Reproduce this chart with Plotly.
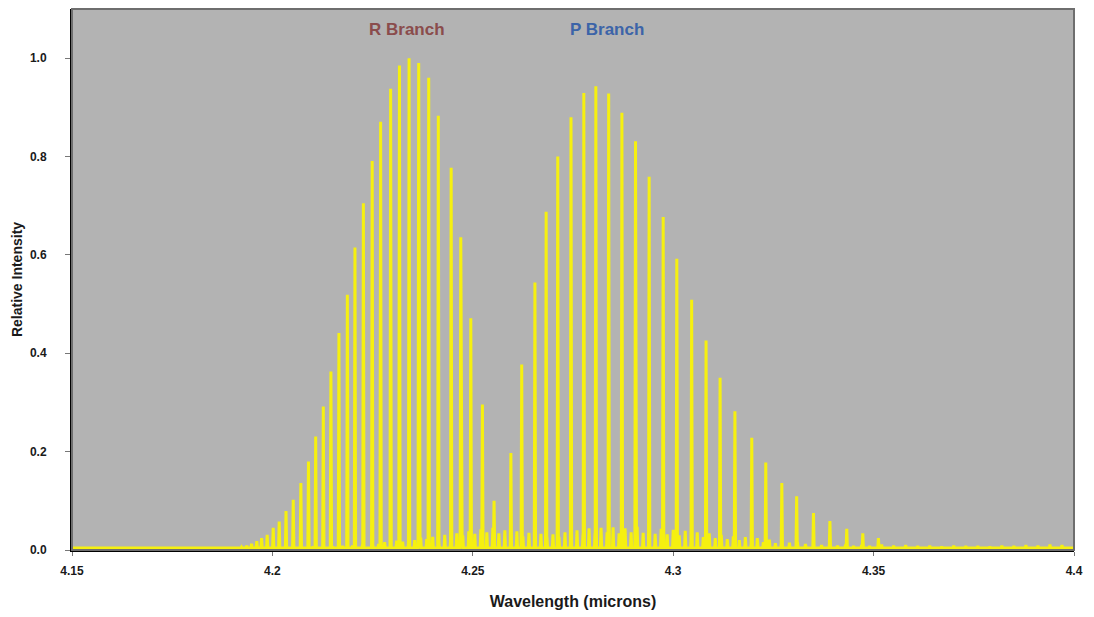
import plotly.graph_objects as go

# ---------------- data ----------------
# strong (fundamental band) rotational lines: wavelength in microns, relative intensity
strong_wl = [4.1898, 4.1911, 4.1923, 4.1936, 4.1948, 4.1961, 4.1973, 4.1987,
             4.2002, 4.2017, 4.2034, 4.2052, 4.2071, 4.2090, 4.2108, 4.2127,
             4.2146, 4.2166, 4.2187, 4.2206, 4.2227, 4.2249, 4.2270, 4.2295,
             4.2317, 4.2341, 4.2365, 4.2390, 4.2414, 4.2446, 4.2470, 4.2495,
             4.2524, 4.2553,
             4.2595, 4.2622, 4.2655, 4.2683, 4.2712, 4.2745, 4.2777, 4.2807,
             4.2839, 4.2872, 4.2906, 4.2940, 4.2975, 4.3009, 4.3046, 4.3082,
             4.3117, 4.3154, 4.3196, 4.3231, 4.3271, 4.3308, 4.3350, 4.3391,
             4.3433, 4.3473, 4.3512]
strong_int = [0.003, 0.004, 0.006, 0.009, 0.013, 0.018, 0.024, 0.031,
              0.045, 0.058, 0.079, 0.102, 0.136, 0.180, 0.231, 0.292,
              0.363, 0.441, 0.519, 0.615, 0.705, 0.791, 0.871, 0.938,
              0.985, 1.000, 0.990, 0.960, 0.883, 0.777, 0.636, 0.471,
              0.296, 0.100,
              0.197, 0.377, 0.544, 0.688, 0.800, 0.880, 0.929, 0.943,
              0.928, 0.889, 0.831, 0.759, 0.677, 0.592, 0.509, 0.426,
              0.350, 0.282, 0.228, 0.178, 0.136, 0.109, 0.075, 0.059,
              0.043, 0.034, 0.024]

# weak (hot band) lines forming the low background hump
weak_wl = [4.205, 4.2075, 4.210, 4.2125, 4.215, 4.2175, 4.220, 4.2225,
           4.225, 4.2265, 4.228, 4.2295, 4.231, 4.2325, 4.234, 4.2355,
           4.237, 4.2385, 4.240, 4.2415, 4.243, 4.2445, 4.246, 4.2475,
           4.249, 4.2505, 4.252, 4.2535, 4.255, 4.2565, 4.258, 4.2595,
           4.261, 4.2625, 4.264, 4.2655, 4.267, 4.2685, 4.270, 4.2715,
           4.273, 4.2745, 4.276, 4.2775, 4.279, 4.2805, 4.282, 4.2835,
           4.285, 4.2865, 4.288, 4.2895, 4.291, 4.2925, 4.294, 4.2955,
           4.297, 4.2985, 4.300, 4.3015, 4.303, 4.3045, 4.306, 4.3075,
           4.309, 4.3105, 4.312, 4.3135, 4.315, 4.3165, 4.318, 4.3195,
           4.321, 4.3225, 4.324, 4.3255, 4.327, 4.329, 4.331, 4.333,
           4.335, 4.337, 4.339, 4.341, 4.343, 4.345, 4.347, 4.349,
           4.352, 4.355, 4.358, 4.361, 4.364, 4.367, 4.370, 4.373,
           4.376, 4.379, 4.382, 4.385, 4.388, 4.391, 4.394, 4.397]
weak_int = [0.004, 0.005, 0.005, 0.006, 0.007, 0.008, 0.009, 0.011,
            0.013, 0.012, 0.016, 0.014, 0.019, 0.017, 0.022, 0.020,
            0.025, 0.022, 0.027, 0.025, 0.031, 0.027, 0.034, 0.030,
            0.038, 0.033, 0.042, 0.036, 0.045, 0.034, 0.040, 0.030,
            0.038, 0.028, 0.035, 0.026, 0.033, 0.025, 0.032, 0.027,
            0.036, 0.030, 0.040, 0.033, 0.044, 0.035, 0.045, 0.036,
            0.046, 0.034, 0.044, 0.036, 0.047, 0.035, 0.045, 0.033,
            0.043, 0.032, 0.041, 0.030, 0.039, 0.028, 0.036, 0.026,
            0.034, 0.024, 0.031, 0.022, 0.028, 0.020, 0.026, 0.018,
            0.024, 0.016, 0.021, 0.014, 0.018, 0.015, 0.016, 0.012,
            0.014, 0.010, 0.012, 0.009, 0.011, 0.008, 0.010, 0.008,
            0.011, 0.009, 0.010, 0.008, 0.009, 0.007, 0.009, 0.008,
            0.008, 0.007, 0.009, 0.008, 0.010, 0.009, 0.011, 0.010]

x_tick_vals = [4.15, 4.2, 4.25, 4.3, 4.35, 4.4]
x_tick_text = ["4.15", "4.2", "4.25", "4.3", "4.35", "4.4"]
y_tick_vals = [0.0, 0.2, 0.4, 0.6, 0.8, 1.0]
y_tick_text = ["0.0", "0.2", "0.4", "0.6", "0.8", "1.0"]

branch_labels = ["R Branch", "P Branch"]
branch_label_x = [4.2337, 4.2836]
branch_label_y = [1.058, 1.058]
branch_colors = ["#8a4c4c", "#3c64a8"]

X_RANGE = [4.15, 4.4]
Y_RANGE = [0.0, 1.1]
BASE = 0.004      # level of the spectrum trace between lines
HALF = 0.00016    # half width of a line profile (microns)

assert len(strong_wl) == len(strong_int)
assert len(weak_wl) == len(weak_int)

# ---------------- build the spectrum polyline from the line lists ----------------
lines = sorted(zip(strong_wl + weak_wl, strong_int + weak_int))
xs = [X_RANGE[0]]
ys = [BASE]
for w, h in lines:
    xs += [w - HALF, w, w + HALF]
    ys += [BASE, h, BASE]
xs.append(X_RANGE[1])
ys.append(BASE)

FONT = "Liberation Sans, Arial, sans-serif"

fig = go.Figure()
fig.add_trace(go.Scatter(
    x=xs, y=ys, mode="lines",
    line=dict(color="#f6f010", width=3),
    hoverinfo="skip", showlegend=False,
))

for txt, lx, ly, col in zip(branch_labels, branch_label_x, branch_label_y, branch_colors):
    fig.add_annotation(x=lx, y=ly, text=txt, showarrow=False,
                       font=dict(family=FONT, size=17, color=col, weight="bold"),
                       xanchor="center", yanchor="middle")

# grey frame around the plot area
fig.add_shape(type="rect", xref="paper", yref="paper", x0=0, y0=0, x1=1, y1=1,
              line=dict(color="#6e6e6e", width=2), layer="above")

fig.update_layout(
    width=1094, height=617,
    margin=dict(l=72, r=20, t=9, b=65),
    paper_bgcolor="white",
    plot_bgcolor="#b3b3b3",
    showlegend=False,
)
fig.update_xaxes(
    range=X_RANGE, tickvals=x_tick_vals, ticktext=x_tick_text,
    showgrid=False, zeroline=False,
    showline=True, linecolor="black", linewidth=2,
    ticks="outside", ticklen=4, tickcolor="#777777", tickwidth=1,
    ticklabelstandoff=5,
    tickfont=dict(family=FONT, size=12, color="#1a1a1a", weight="bold"),
    title=dict(text="Wavelength (microns)", standoff=18,
               font=dict(family=FONT, size=16, color="#1a1a1a", weight="bold")),
)
fig.update_yaxes(
    range=Y_RANGE, tickvals=y_tick_vals, ticktext=y_tick_text,
    showgrid=False, zeroline=False,
    showline=True, linecolor="black", linewidth=2,
    ticks="outside", ticklen=5, tickcolor="#777777", tickwidth=1,
    ticklabelstandoff=16,
    tickfont=dict(family=FONT, size=12, color="#1a1a1a", weight="bold"),
    title=dict(text="Relative Intensity", standoff=4,
               font=dict(family=FONT, size=14, color="#1a1a1a", weight="bold")),
)

fig.write_html("out.html")
